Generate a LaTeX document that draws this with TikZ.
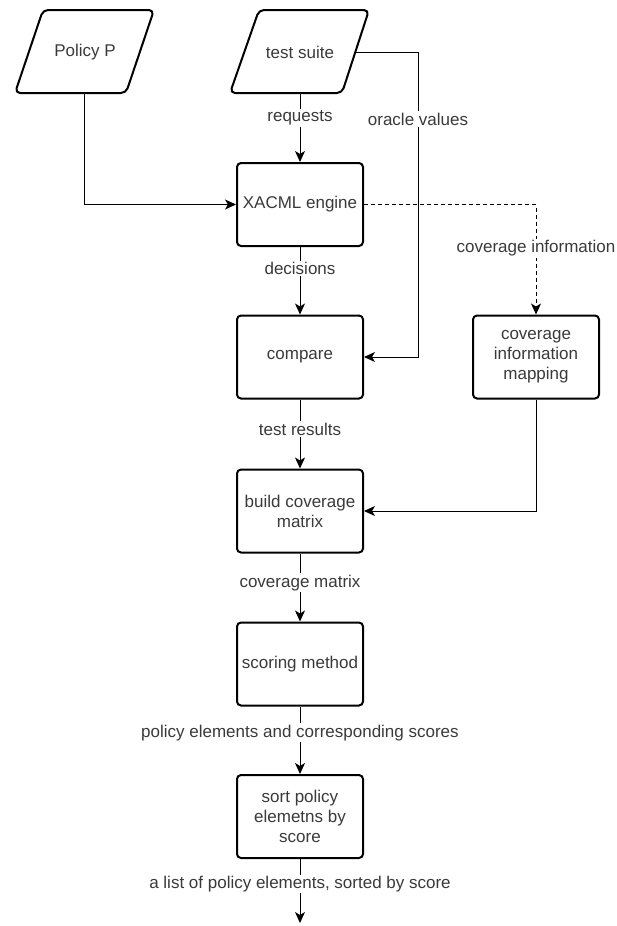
\documentclass[tikz,border=0pt]{standalone}
\usepackage{fontspec}
\setmainfont{Liberation Sans}
\usetikzlibrary{arrows.meta}
\definecolor{txt}{HTML}{3A3A3A}
\tikzset{
  box/.style={draw=black, line width=2pt, rounded corners=4pt, minimum width=126pt, minimum height=83pt, inner sep=2pt, align=center, text=txt, fill=white},
  paraline/.style={draw=black, line width=2pt, rounded corners=5pt, line join=round},
  ptext/.style={text=txt, inner sep=0pt},
  conn/.style={draw=black, line width=1pt, -{Stealth[length=11pt,width=10pt,inset=3pt]}},
  lbl/.style={fill=white, text=txt, inner sep=1.5pt}
}
\begin{document}
\begin{tikzpicture}[x=1pt,y=-1pt, font=\fontsize{17}{20}\selectfont]
\useasboundingbox (0,0) rectangle (616,926);
% input parallelograms
\draw[paraline] (43,10) -- (154,10) -- (126,93) -- (15,93) -- cycle;
\node[ptext] (policy) at (85,52) {Policy P};
\draw[paraline] (259,10) -- (369,10) -- (342,93) -- (230,93) -- cycle;
\node[ptext] (suite) at (300,52) {test suite};
\coordinate (policyB) at (84,93);
\coordinate (suiteB) at (300,93);
\coordinate (suiteR) at (355.5,52);
% process boxes
\node[box] (xacml) at (300,204.5) {XACML engine};
\node[box] (compare) at (300,357) {compare};
\node[box] (mapping) at (536,357) {coverage\\information\\mapping};
\node[box] (build) at (300,511) {build coverage\\matrix};
\node[box] (scoring) at (300,664) {scoring method};
\node[box] (sort) at (300,816.5) {sort policy\\elemetns by\\score};
\coordinate (oracle) at (418,52);
\coordinate (covturn) at (536,204.5);
\coordinate (out) at (300,923);
% connectors
\draw[conn] (policyB) |- (xacml.west);
\draw[conn] (suiteB) -- node[lbl,pos=0.36]{requests} (xacml.north);
\draw[conn] (suiteR) -- (oracle) -- node[lbl,pos=0.22]{oracle values} (oracle |- compare.east) -- (compare.east);
\draw[conn,dash pattern=on 4pt off 3pt] (xacml.east) -- (covturn) -- node[lbl,pos=0.4]{coverage information} (mapping.north);
\draw[conn] (xacml.south) -- node[lbl,pos=0.32]{decisions} (compare.north);
\draw[conn] (compare.south) -- node[lbl,pos=0.43]{test results} (build.north);
\draw[conn] (mapping.south) |- (build.east);
\draw[conn] (build.south) -- node[lbl,pos=0.43]{coverage matrix} (scoring.north);
\draw[conn] (scoring.south) -- node[lbl,pos=0.39]{policy elements and corresponding scores} (sort.north);
\draw[conn] (sort.south) -- node[lbl,pos=0.39]{a list of policy elements, sorted by score} (out);
\end{tikzpicture}
\end{document}
